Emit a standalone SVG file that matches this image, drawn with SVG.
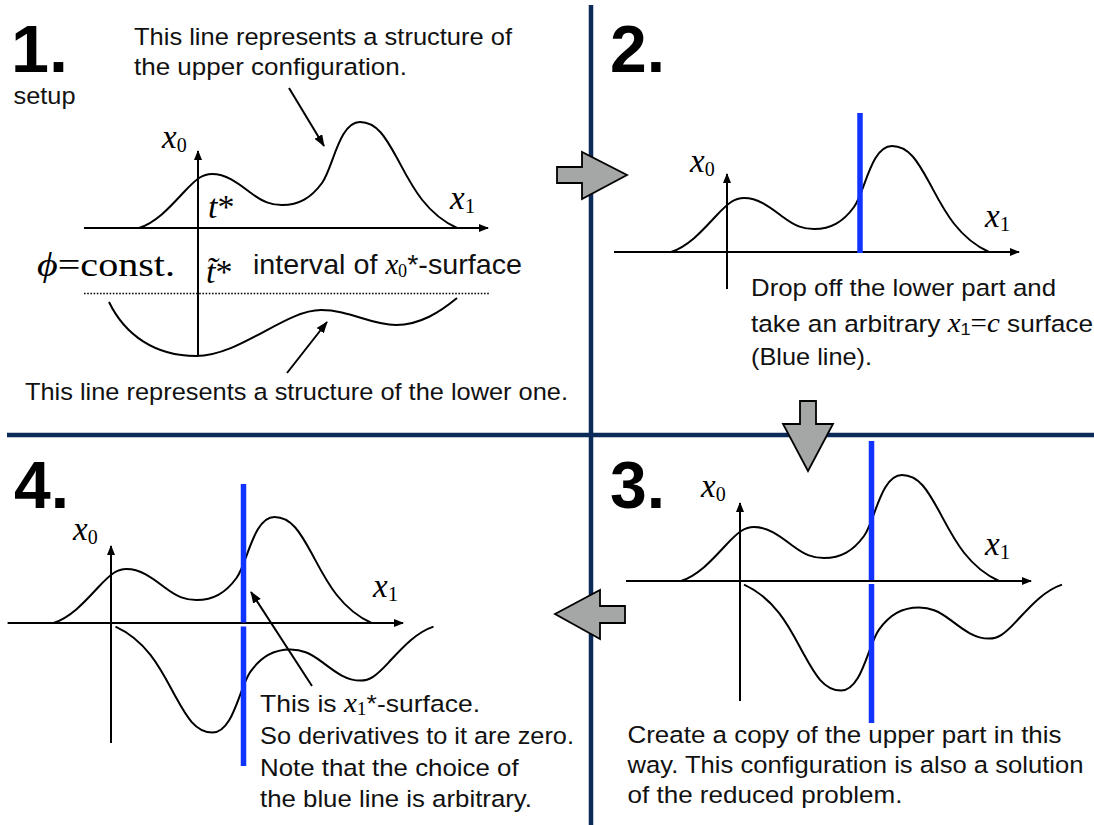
<svg xmlns="http://www.w3.org/2000/svg" width="1094" height="825" viewBox="0 0 1094 825">
<defs>
<style>
.s{font-family:"Liberation Sans",Arial,sans-serif;font-size:24.5px;fill:#111}
.n{font-family:"Liberation Sans",Arial,sans-serif;font-weight:bold;font-size:66px;fill:#000}
.m{font-family:"Liberation Serif","Times New Roman","DejaVu Serif",serif;fill:#000}
.i{font-style:italic}
.ax{stroke:#000;stroke-width:2;fill:none}
.cv{stroke:#000;stroke-width:2;fill:none}
.blue{stroke:#1133ff;stroke-width:5.5;fill:none}
.div{stroke:#0b2a5a;stroke-width:4.5;fill:none}
.garr{fill:#a4a7a5;stroke:#000;stroke-width:1.8;stroke-linejoin:miter}
.dot{stroke:#000;stroke-width:1.6;stroke-dasharray:1.6 1.6;fill:none}
</style>
<marker id="ah" viewBox="0 0 10 8" refX="9" refY="4" markerWidth="10" markerHeight="8" markerUnits="userSpaceOnUse" orient="auto"><path d="M0,0 L10,4 L0,8 z" fill="#000"/></marker>
<marker id="ah2" viewBox="0 0 12 9" refX="11" refY="4.5" markerWidth="12" markerHeight="9" markerUnits="userSpaceOnUse" orient="auto"><path d="M0,0 L12,4.5 L0,9 z" fill="#000"/></marker>
<path id="up" d="M0,0 C18,-6 32,-22 45,-36 C58,-50 64,-54 73,-54 C88,-54 100,-44 112,-35 C124,-26 132,-23 143,-23 C160,-23 172,-30 183,-45 C194,-60 200,-106 221,-106 C238,-106 247,-90 258,-70 C271,-46 285,-15 318,0"/>
</defs>
<rect width="1094" height="825" fill="#fff"/>

<g id="dividers">
<path class="div" d="M591,5 V825"/>
<path class="div" d="M7,435 H1094"/>
</g>

<g id="panel1">
<text class="n" x="11" y="72" textLength="57" lengthAdjust="spacingAndGlyphs">1.</text>
<text class="s" x="134" y="45" textLength="378" lengthAdjust="spacingAndGlyphs">This line represents a structure of</text>
<text class="s" x="134" y="75" textLength="273" lengthAdjust="spacingAndGlyphs">the upper configuration.</text>
<text class="s" x="13.5" y="104" textLength="62" lengthAdjust="spacingAndGlyphs">setup</text>
<path class="ax" d="M198,355 V151" marker-end="url(#ah)"/>
<path class="ax" d="M84,228 H488" marker-end="url(#ah)"/>
<use href="#up" class="cv" transform="translate(139,228)"/>
<path class="cv" d="M109,302 C125,335 155,356 196,356 C240,356 285,310 321,310 C350,310 370,325 396,325 C420,325 440,312 457,298"/>
<path class="dot" d="M84,293.5 H490"/>
<path class="cv" d="M289,88 L324,146" marker-end="url(#ah2)"/>
<path class="cv" d="M287,373 L327,322" marker-end="url(#ah2)"/>
<text class="m" x="162" y="148"><tspan class="i" font-size="33">x</tspan><tspan font-size="20" dy="4">0</tspan></text>
<text class="m" x="450" y="209"><tspan class="i" font-size="33">x</tspan><tspan font-size="21" dy="4">1</tspan></text>
<text class="m" x="208" y="218" font-size="34"><tspan class="i">t</tspan>*</text>
<text class="m" x="37" y="276" font-size="34" textLength="138" lengthAdjust="spacingAndGlyphs"><tspan class="i">ϕ</tspan>=const.</text>
<text class="m" x="206" y="283" font-size="34"><tspan class="i">t̃</tspan>*</text>
<text class="s" x="253" y="274" style="font-size:28.5px" textLength="269" lengthAdjust="spacingAndGlyphs">interval of <tspan class="m i">x</tspan><tspan class="m" font-size="18" dy="3">0</tspan><tspan dy="-3">*-surface</tspan></text>
<text class="s" x="25" y="400" textLength="543" lengthAdjust="spacingAndGlyphs">This line represents a structure of the lower one.</text>
</g>

<g id="panel2">
<text class="n" x="610" y="72">2.</text>
<path class="ax" d="M727,289 V174" marker-end="url(#ah)"/>
<path class="ax" d="M614,252 H1019" marker-end="url(#ah)"/>
<use href="#up" class="cv" transform="translate(671,252)"/>
<path class="blue" d="M860,113 V253"/>
<text class="m" x="690" y="172"><tspan class="i" font-size="33">x</tspan><tspan font-size="20" dy="4">0</tspan></text>
<text class="m" x="985" y="227"><tspan class="i" font-size="33">x</tspan><tspan font-size="21" dy="4">1</tspan></text>
<text class="s" x="751" y="296" textLength="305" lengthAdjust="spacingAndGlyphs">Drop off the lower part and</text>
<text class="s" x="751" y="332" textLength="342" lengthAdjust="spacingAndGlyphs">take an arbitrary <tspan class="m i" font-size="27">x</tspan><tspan font-size="17" dy="3">1</tspan><tspan class="m" font-size="27" dy="-3">=</tspan><tspan class="m i" font-size="27">c</tspan> surface</text>
<text class="s" x="751" y="365" textLength="121" lengthAdjust="spacingAndGlyphs">(Blue line).</text>
</g>

<g id="panel3">
<text class="n" x="610" y="508">3.</text>
<path class="ax" d="M740,701 V503" marker-end="url(#ah)"/>
<path class="ax" d="M626,581 H1031" marker-end="url(#ah)"/>
<use href="#up" class="cv" transform="translate(681,581)"/>
<use href="#up" class="cv" transform="rotate(180 871.5 582.8) translate(681 581)"/>
<path class="blue" d="M871.5,441 V580 M871.5,584 V723"/>
<text class="m" x="701" y="497"><tspan class="i" font-size="33">x</tspan><tspan font-size="20" dy="4">0</tspan></text>
<text class="m" x="985" y="555"><tspan class="i" font-size="33">x</tspan><tspan font-size="21" dy="4">1</tspan></text>
<text class="s" x="627.5" y="742.5" textLength="434" lengthAdjust="spacingAndGlyphs">Create a copy of the upper part in this</text>
<text class="s" x="627.5" y="772.5" textLength="456" lengthAdjust="spacingAndGlyphs">way. This configuration is also a solution</text>
<text class="s" x="627.5" y="802.5" textLength="275" lengthAdjust="spacingAndGlyphs">of the reduced problem.</text>
</g>

<g id="panel4">
<text class="n" x="14" y="508">4.</text>
<path class="ax" d="M111,743 V546" marker-end="url(#ah)"/>
<path class="ax" d="M7.6,623 H403" marker-end="url(#ah)"/>
<use href="#up" class="cv" transform="translate(53.5,623)"/>
<use href="#up" class="cv" transform="rotate(180 243.5 624.8) translate(53.5 623)"/>
<path class="blue" d="M243.5,484 V622.5 M243.5,626.5 V766"/>
<path class="cv" d="M312,686 L251,592" marker-end="url(#ah2)"/>
<text class="m" x="73" y="540"><tspan class="i" font-size="33">x</tspan><tspan font-size="20" dy="4">0</tspan></text>
<text class="m" x="373" y="597"><tspan class="i" font-size="33">x</tspan><tspan font-size="21" dy="4">1</tspan></text>
<text class="s" x="260" y="712" textLength="220" lengthAdjust="spacingAndGlyphs">This is <tspan class="m i" font-size="27">x</tspan><tspan class="m" font-size="18" dy="3">1</tspan><tspan dy="-3">*-surface.</tspan></text>
<text class="s" x="260" y="744" textLength="314" lengthAdjust="spacingAndGlyphs">So derivatives to it are zero.</text>
<text class="s" x="260" y="775.5" textLength="258.6" lengthAdjust="spacingAndGlyphs">Note that the choice of</text>
<text class="s" x="260" y="806.5" textLength="272" lengthAdjust="spacingAndGlyphs">the blue line is arbitrary.</text>
</g>

<g id="connectors">
<polygon class="garr" points="557,167 582,167 582,152 627,175 582,199 582,183 557,183"/>
<polygon class="garr" points="800,401 816,401 816,424 833,424 808,471 783,424 800,424"/>
<polygon class="garr" points="625,606 600,606 600,590 555,614 600,639 600,623 625,623"/>
</g>
</svg>
